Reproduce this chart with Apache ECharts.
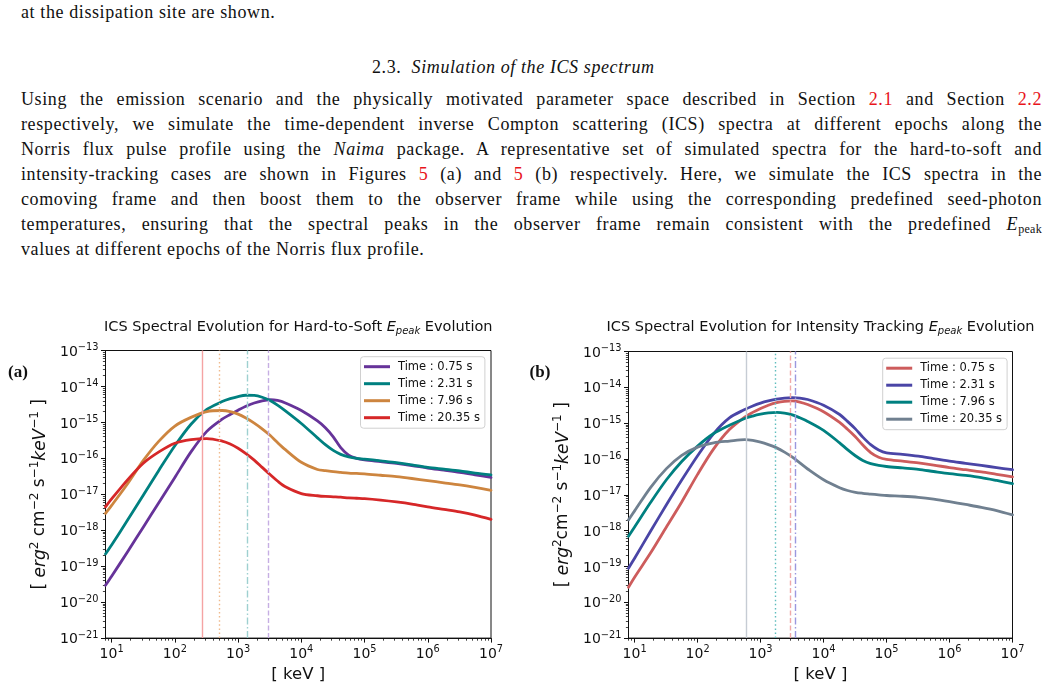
<!DOCTYPE html>
<html>
<head>
<meta charset="utf-8">
<title>ICS spectra</title>
<script src="https://cdn.jsdelivr.net/npm/echarts/dist/echarts.min.js"></script>
<style>
    html, body { margin: 0; padding: 0; background: #fff; }
    body { width: 1049px; height: 688px; position: relative; overflow: hidden; }
    .ln {
        position: absolute; left: 21px; width: 1021px;
        font-family: 'Liberation Serif', serif; font-size: 18px; line-height: 25px;
        letter-spacing: 0.6px; color: #111;
        text-align: justify; text-align-last: justify;
    }
    .ln.last { text-align-last: left; }
    .ref { color: #e8141b; }
    .ln sub { font-size: 12px; vertical-align: -3px; line-height: 0; font-style: normal; letter-spacing: 0.3px; }
    #chartA { position: absolute; left: 0; top: 300px; width: 524px; height: 388px; }
    #chartB { position: absolute; left: 524px; top: 300px; width: 525px; height: 388px; }
</style>
</head>
<body>

<div class="ln last" style="top:0.3px">at the dissipation site are shown.</div>
<div class="ln last" style="top:54.6px; left:372px; width:auto">2.3.&nbsp; <i>Simulation of the ICS spectrum</i></div>

<div class="ln" style="top:87.4px">Using the emission scenario and the physically motivated parameter space described in Section <span class="ref">2.1</span> and Section <span class="ref">2.2</span></div>
<div class="ln" style="top:112.4px">respectively, we simulate the time-dependent inverse Compton scattering (ICS) spectra at different epochs along the</div>
<div class="ln" style="top:137.4px">Norris flux pulse profile using the <i>Naima</i> package. A representative set of simulated spectra for the hard-to-soft and</div>
<div class="ln" style="top:162.4px">intensity-tracking cases are shown in Figures <span class="ref">5</span> (a) and <span class="ref">5</span> (b) respectively. Here, we simulate the ICS spectra in the</div>
<div class="ln" style="top:187.4px">comoving frame and then boost them to the observer frame while using the corresponding predefined seed-photon</div>
<div class="ln" style="top:212.4px">temperatures, ensuring that the spectral peaks in the observer frame remain consistent with the predefined <i>E</i><sub>peak</sub></div>
<div class="ln last" style="top:237.4px">values at different epochs of the Norris flux profile.</div>

<div id="chartA"></div>
<div id="chartB"></div>

<script>
(function() {

    // energy grid [keV]
    var energy = [8, 10, 18, 32, 56, 100, 180, 320, 560, 750, 1000, 1330, 1800, 2400, 3200, 4200, 5600,
        1e4, 1.8e4, 2.4e4, 3.2e4, 4.2e4, 5.6e4, 7.5e4, 1e5, 1.8e5, 3.2e5, 5.6e5, 1e6, 1.8e6, 3.2e6, 5.6e6, 1e7];

    var timeNames = ['Time : 0.75 s', 'Time : 2.31 s', 'Time : 7.96 s', 'Time : 20.35 s'];

    // (a) hard-to-soft, flux [erg^2 cm^-2 s^-1 keV^-1]
    var hsT075 = [2.95e-20, 5.25e-20, 2.57e-19, 1.26e-18, 5.89e-18, 2.95e-17, 1.51e-16,
        5.62e-16, 1.23e-15, 1.66e-15, 2.19e-15, 2.82e-15, 3.47e-15, 3.98e-15, 4.27e-15, 4.07e-15, 3.47e-15,
        2.14e-15, 1.10e-15, 7.08e-16, 3.98e-16, 2.00e-16, 1.23e-16, 1.00e-16, 9.12e-17,
        8.13e-17, 7.24e-17, 6.31e-17, 5.37e-17, 4.68e-17, 4.07e-17, 3.47e-17, 2.95e-17];
    var hsT231 = [2.19e-19, 3.89e-19, 1.95e-18, 9.77e-18, 4.68e-17, 2.24e-16, 8.91e-16,
        2.29e-15, 3.80e-15, 4.57e-15, 5.25e-15, 5.69e-15, 5.62e-15, 5.01e-15, 4.07e-15, 3.02e-15, 2.09e-15,
        9.33e-16, 3.72e-16, 2.40e-16, 1.66e-16, 1.29e-16, 1.10e-16, 1.00e-16, 9.55e-17,
        8.51e-17, 7.59e-17, 6.61e-17, 5.62e-17, 5.01e-17, 4.47e-17, 3.89e-17, 3.47e-17];
    var hsT796 = [2.95e-18, 4.90e-18, 2.00e-17, 8.91e-17, 3.02e-16, 7.94e-16, 1.38e-15,
        2.00e-15, 2.14e-15, 2.00e-15, 1.70e-15, 1.32e-15, 9.55e-16, 6.61e-16, 4.37e-16, 2.75e-16, 1.74e-16,
        7.76e-17, 4.90e-17, 4.57e-17, 4.27e-17, 4.07e-17, 3.89e-17, 3.80e-17, 3.72e-17,
        3.39e-17, 3.09e-17, 2.75e-17, 2.40e-17, 2.09e-17, 1.82e-17, 1.55e-17, 1.29e-17];
    var hsT2035 = [4.47e-18, 7.41e-18, 2.57e-17, 7.41e-17, 1.51e-16, 2.63e-16, 3.31e-16,
        3.55e-16, 3.02e-16, 2.51e-16, 1.91e-16, 1.35e-16, 8.91e-17, 5.62e-17, 3.55e-17, 2.34e-17, 1.62e-17,
        1.05e-17, 9.12e-18, 8.71e-18, 8.51e-18, 8.32e-18, 7.94e-18, 7.76e-18, 7.59e-18,
        6.92e-18, 6.17e-18, 5.37e-18, 4.47e-18, 3.80e-18, 3.24e-18, 2.63e-18, 2.00e-18];
    var hsPeaks = [275, 510, 1400, 3050]; // Epeak markers [keV]

    // (b) intensity tracking
    var itT075 = [2.63e-20, 5.01e-20, 2.40e-19, 1.26e-18, 6.31e-18, 3.72e-17, 1.91e-16,
        6.61e-16, 1.48e-15, 2.00e-15, 2.57e-15, 3.16e-15, 3.72e-15, 4.07e-15, 4.17e-15, 3.89e-15, 3.31e-15,
        2.09e-15, 1.05e-15, 6.76e-16, 4.17e-16, 2.45e-16, 1.51e-16, 1.12e-16, 9.77e-17,
        8.71e-17, 7.76e-17, 6.76e-17, 5.75e-17, 5.01e-17, 4.37e-17, 3.72e-17, 3.16e-17];
    var itT231 = [8.91e-20, 1.70e-19, 9.77e-19, 5.25e-18, 2.57e-17, 1.23e-16, 5.13e-16,
        1.41e-15, 2.40e-15, 3.02e-15, 3.63e-15, 4.17e-15, 4.68e-15, 5.01e-15, 5.13e-15, 5.01e-15, 4.57e-15,
        3.16e-15, 1.74e-15, 1.12e-15, 6.92e-16, 4.07e-16, 2.51e-16, 1.78e-16, 1.48e-16,
        1.35e-16, 1.20e-16, 1.02e-16, 8.71e-17, 7.59e-17, 6.61e-17, 5.75e-17, 5.01e-17];
    var itT796 = [6.92e-19, 1.26e-18, 6.17e-18, 2.63e-17, 8.51e-17, 2.29e-16, 5.13e-16,
        8.71e-16, 1.35e-15, 1.58e-15, 1.78e-15, 1.93e-15, 2.00e-15, 1.91e-15, 1.70e-15, 1.41e-15, 1.12e-15,
        6.31e-16, 2.82e-16, 1.82e-16, 1.23e-16, 9.12e-17, 7.41e-17, 6.61e-17, 6.17e-17,
        5.62e-17, 5.13e-17, 4.47e-17, 3.89e-17, 3.47e-17, 3.02e-17, 2.51e-17, 2.04e-17];
    var itT2035 = [2.00e-18, 3.55e-18, 1.62e-17, 5.37e-17, 1.26e-16, 2.14e-16, 2.82e-16,
        3.16e-16, 3.47e-16, 3.31e-16, 2.95e-16, 2.51e-16, 2.04e-16, 1.55e-16, 1.12e-16, 7.76e-17, 5.25e-17,
        2.63e-17, 1.58e-17, 1.32e-17, 1.17e-17, 1.10e-17, 1.05e-17, 1.00e-17, 9.55e-18,
        9.12e-18, 8.51e-18, 7.59e-18, 6.46e-18, 5.37e-18, 4.47e-18, 3.63e-18, 2.75e-18];
    var itPeaks = [585, 1710, 2960, 3520];

    // axis ranges and labelled decades
    var xMin = 8, xMax = 1e7;
    var yMin = 1e-21, yMax = 1e-13;
    var xDecades = [1, 2, 3, 4, 5, 6, 7];

    var FONT = 'DejaVu Sans';
    var DOT = [1.5, 2.6], DASH = [5, 2.5], DASHDOT = [7, 2.5, 1.5, 2.5];
    var lg = Math.log10;

    // log10 positions of minor ticks 2..9 x 10^n
    function minorTicks(lo, hi) {
        var out = [];
        for (var d = lo; d < hi; d++) {
            for (var m = 2; m < 10; m++) out.push(d + lg(m));
        }
        return out;
    }

    function powLabel(v) {
        var n = Math.round(v);
        if (Math.abs(v - n) > 1e-6) return '';
        return '{b|10}{s|' + String(n).replace('-', '\u2212') + '}';
    }

    var tickRich = {
        b: { fontSize: 14, fontFamily: FONT, color: '#111', verticalAlign: 'bottom', lineHeight: 17 },
        s: { fontSize: 9.8, fontFamily: FONT, color: '#111', verticalAlign: 'bottom', lineHeight: 17, padding: [0, 0, 6.5, 0] }
    };

    drawSpectrumChart('chartA', {
        grid: { left: 105.5, top: 50.5, width: 385.5, height: 291 },
        title: 'ICS Spectral Evolution for Hard-to-Soft ',
        panel: '(a)', panelX: 18,
        yName: '[ {i|erg}{u|2} cm{u|\u22122} s{u|\u22121}{i|keV}{u|\u22121} ]',
        series: [hsT075, hsT231, hsT796, hsT2035],
        colors: ['#663399', '#008080', '#cd853f', '#d62728'],
        peaks: hsPeaks,
        peakColors: ['#f5a3a3', '#efb98c', '#9ed0d0', '#c6aee3'],
        peakTypes: ['solid', DOT, DASHDOT, DASH],
        legendPos: { left: 360.5, top: 56.7 }
    });

    drawSpectrumChart('chartB', {
        grid: { left: 104.5, top: 51.5, width: 384, height: 289.5 },
        title: 'ICS Spectral Evolution for Intensity Tracking ',
        panel: '(b)', panelX: 16,
        yName: '[ {i|erg}{u|2}cm{u|\u22122} s{u|\u22121}{i|keV}{u|\u22121} ]',
        series: [itT075, itT231, itT796, itT2035],
        colors: ['#cd5c5c', '#4a45a6', '#008080', '#708090'],
        peaks: itPeaks,
        peakColors: ['#c6ccd4', '#5fbdbd', '#f0a9a9', '#9a98df'],
        peakTypes: ['solid', DOT, DASH, DASHDOT],
        legendPos: { left: 358.7, top: 58.2 }
    });


    function drawSpectrumChart(elem, cfg) {
        var myChart = echarts.init(document.getElementById(elem));
        var g = cfg.grid;

        // vertical Epeak markers
        var series = [{
            name: 'Epeak',
            type: 'line',
            data: [],
            silent: true,
            z: 1,
            markLine: {
                symbol: ['none', 'none'],
                silent: true,
                animation: false,
                label: { show: false },
                data: cfg.peaks.map(function(p, i) {
                    return {
                        xAxis: lg(p),
                        lineStyle: { color: cfg.peakColors[i], type: cfg.peakTypes[i], width: 1.4, opacity: 1 }
                    };
                })
            }
        }];

        cfg.series.forEach(function(vals, i) {
            series.push({
                name: timeNames[i],
                type: 'line',
                symbol: 'none',
                smooth: 0.3,
                z: 3,
                xAxisIndex: 0,
                yAxisIndex: 0,
                data: energy.map(function(e, j) { return [lg(e), lg(vals[j])]; }),
                lineStyle: { color: cfg.colors[i], width: 2.8, cap: 'round', join: 'round' },
                itemStyle: { color: cfg.colors[i] }
            });
        });

        var line = { show: true, lineStyle: { color: '#111', width: 1 } };
        var minorTick = { show: true, length: 2.6, lineStyle: { color: '#111', width: 0.8 } };

        myChart.setOption({
            animation: false,
            title: {
                text: cfg.title + '{e|E}{p|peak}{t| Evolution}',
                left: g.left + g.width / 2,
                top: 19,
                textAlign: 'center',
                padding: 0,
                textStyle: {
                    fontFamily: FONT, fontSize: 14.5, fontWeight: 'normal', color: '#111',
                    rich: {
                        e: { fontFamily: FONT, fontSize: 14.5, fontStyle: 'italic', color: '#111' },
                        p: { fontFamily: FONT, fontSize: 10, fontStyle: 'italic', color: '#111', padding: [7, 0, 0, 0] },
                        t: { fontFamily: FONT, fontSize: 14.5, color: '#111' }
                    }
                }
            },
            graphic: [{
                type: 'text',
                x: cfg.panelX,
                y: 73,
                style: {
                    text: cfg.panel,
                    font: 'bold 17px "Liberation Serif"',
                    fill: '#111',
                    textAlign: 'center',
                    textVerticalAlign: 'middle'
                }
            }],
            legend: {
                data: timeNames,
                orient: 'vertical',
                left: cfg.legendPos.left,
                top: cfg.legendPos.top,
                icon: 'rect',
                itemWidth: 26,
                itemHeight: 3,
                itemGap: 3,
                selectedMode: false,
                padding: [3, 5, 3.5, 3.5],
                backgroundColor: 'rgba(255,255,255,0.85)',
                borderColor: '#d0d0d0',
                borderWidth: 1,
                borderRadius: 3,
                textStyle: { fontFamily: FONT, fontSize: 11.5, color: '#111', lineHeight: 14, padding: [0, 0, 0, 3] }
            },
            grid: {
                left: g.left, top: g.top, width: g.width, height: g.height,
                show: true, borderColor: '#111', borderWidth: 1, backgroundColor: 'transparent'
            },
            xAxis: [{
                type: 'value',
                min: lg(xMin), max: lg(xMax),
                position: 'bottom',
                name: '[ keV ]',
                nameLocation: 'middle',
                nameGap: 22,
                nameTextStyle: { fontFamily: FONT, fontSize: 16.5, color: '#111', verticalAlign: 'top' },
                splitLine: { show: false },
                axisLine: line,
                axisTick: { show: true, length: 4.5, lineStyle: { color: '#111', width: 1 }, customValues: xDecades },
                axisLabel: { formatter: powLabel, rich: tickRich, margin: 6, customValues: xDecades }
            }, {
                type: 'value',
                min: lg(xMin), max: lg(xMax),
                position: 'bottom',
                splitLine: { show: false },
                axisLine: { show: false },
                axisLabel: { show: false },
                axisTick: echarts.util.extend({ customValues: minorTicks(0, 7) }, minorTick)
            }],
            yAxis: [{
                type: 'value',
                min: lg(yMin), max: lg(yMax), interval: 1,
                position: 'left',
                name: cfg.yName,
                nameLocation: 'middle',
                nameRotate: 90,
                nameGap: 50,
                nameTextStyle: {
                    fontFamily: FONT, fontSize: 17, color: '#111',
                    rich: {
                        i: { fontFamily: FONT, fontSize: 17, fontStyle: 'italic', color: '#111', verticalAlign: 'bottom' },
                        u: { fontFamily: FONT, fontSize: 12, color: '#111', verticalAlign: 'bottom', padding: [0, 0, 8, 0] }
                    }
                },
                splitLine: { show: false },
                axisLine: line,
                axisTick: { show: true, length: 4.5, lineStyle: { color: '#111', width: 1 } },
                axisLabel: { formatter: powLabel, rich: tickRich, margin: 7, showMinLabel: true, showMaxLabel: true }
            }, {
                type: 'value',
                min: lg(yMin), max: lg(yMax),
                position: 'left',
                splitLine: { show: false },
                axisLine: { show: false },
                axisLabel: { show: false },
                axisTick: echarts.util.extend({ customValues: minorTicks(-21, -13) }, minorTick)
            }],
            series: series
        });
        return myChart;
    }

})();
</script>
</body>
</html>
